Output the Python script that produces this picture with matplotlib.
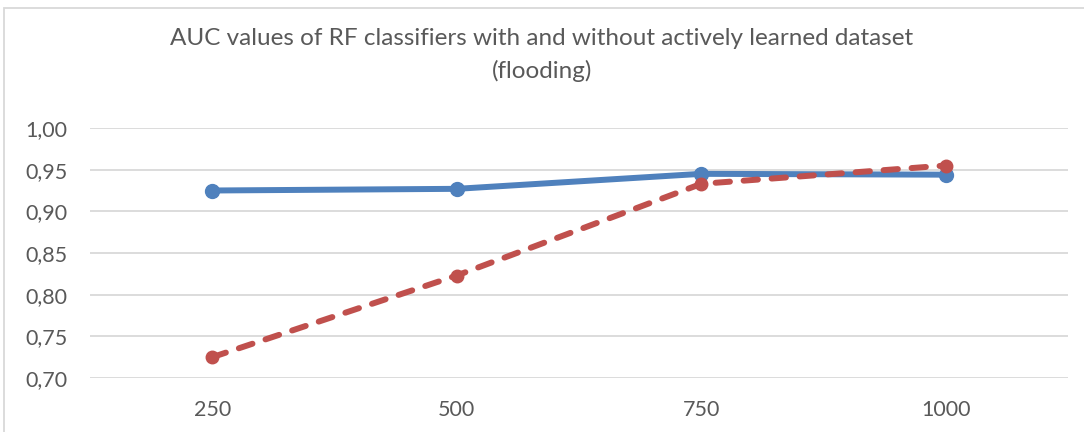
import matplotlib
matplotlib.use("Agg")
import matplotlib.pyplot as plt
from matplotlib.patches import Rectangle

categories = ["250", "500", "750", "1000"]
auc_without = [0.925, 0.927, 0.945, 0.944]
auc_with = [0.725, 0.823, 0.933, 0.955]
y_ticks = [0.70, 0.75, 0.80, 0.85, 0.90, 0.95, 1.00]
title = "AUC values of RF classifiers with and without actively learned dataset\n(flooding)"

plt.rcParams['font.family'] = ['Lato', 'DejaVu Sans']
text_color = "#595959"
grid_color = "#D9D9D9"

W, H = 1084, 432
fig = plt.figure(figsize=(W / 100, H / 100), dpi=100)

# chart frame
fig.patches.append(Rectangle((4 / W, -0.1), 1.2, (H - 8) / H + 0.1, transform=fig.transFigure,
                             fill=False, edgecolor=grid_color, linewidth=1.3))

ax = fig.add_axes([90 / W, (H - 378) / H, (1068 - 90) / W, (378 - 128) / H])
x = list(range(len(categories)))

ax.plot(x, auc_without, color="#4F81BD", linewidth=4.3, marker="o", markersize=10,
        solid_capstyle="round", zorder=3)
ax.plot(x, auc_with, color="#C0504D", linewidth=4.3, marker="o", markersize=9,
        linestyle=(0, (2.4, 2.3)), dash_capstyle="round", zorder=4)

ax.set_xlim(-0.5, len(categories) - 0.5)
ax.set_ylim(0.70, 1.00)
ax.set_yticks(y_ticks)
ax.set_yticklabels([f"{v:.2f}".replace(".", ",") for v in y_ticks])
ax.set_xticks(x)
ax.set_xticklabels(categories)
ax.yaxis.grid(True, color=grid_color, linewidth=1.3)
ax.set_axisbelow(True)
for s in ax.spines.values():
    s.set_visible(False)
ax.tick_params(length=0, colors=text_color, labelsize=15.5)
ax.tick_params(axis="y", pad=16)
ax.tick_params(axis="x", pad=16)

fig.text(0.5, (H - 55) / H, title, ha="center", va="center", fontsize=17.5,
         color=text_color, linespacing=1.64)

fig.savefig("out.png", dpi=100)
